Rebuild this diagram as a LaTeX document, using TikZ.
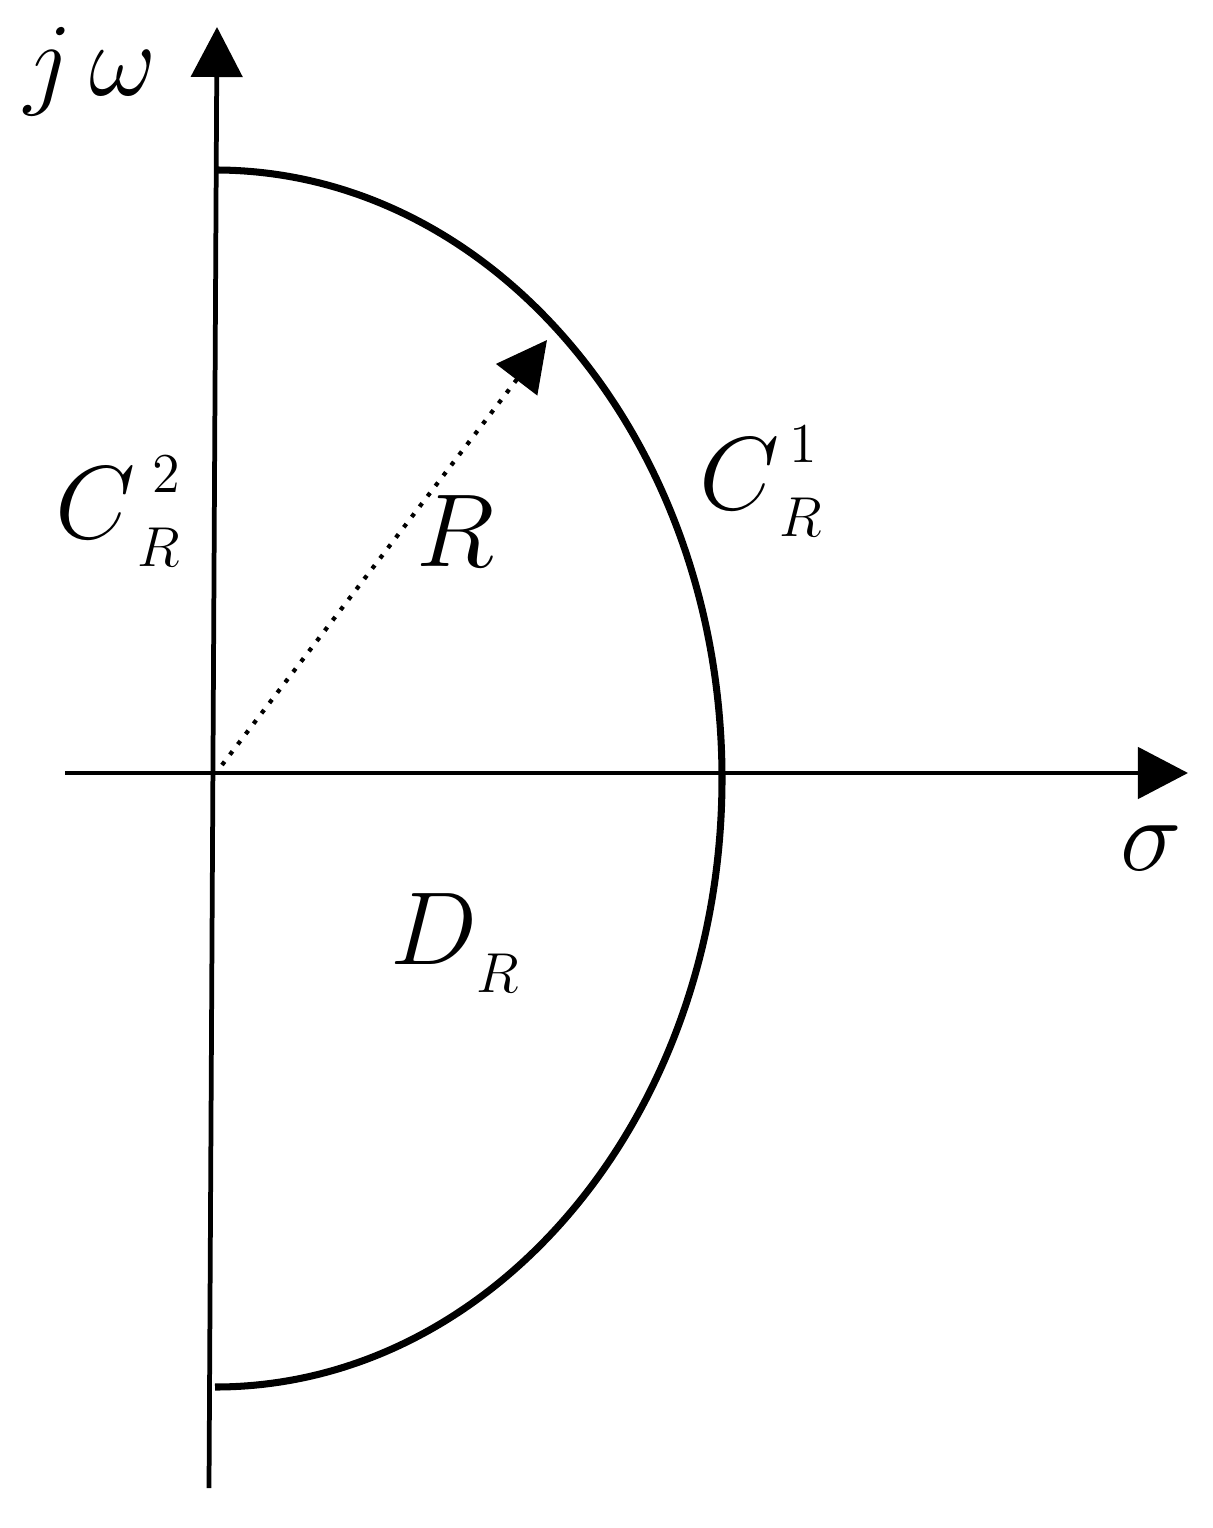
\RequirePackage{fix-cm}
\documentclass[tikz,border=0pt]{standalone}
\usetikzlibrary{positioning,arrows.meta}

\begin{document}
\begin{tikzpicture}[x=0.01cm,y=-0.01cm]
	\tikzstyle{axis} = [line width=1.35pt, -{Triangle[length=0.5cm,width=0.51cm]}]
	\tikzstyle{contour} = [line width=2pt]
	\tikzstyle{radius} = [line width=1.2pt, dash pattern=on 1.2pt off 2.5pt, -{Triangle[length=0.5cm,width=0.51cm]}]
	\tikzstyle{big} = [inner sep=0pt, anchor=base, font=\fontsize{29.5}{35}\selectfont]
	\tikzstyle{small} = [inner sep=0pt, anchor=base, font=\fontsize{16}{19}\selectfont]
	\useasboundingbox (0,0) rectangle (1213,1528);
	% axes
	\coordinate(xs) at (65,773);
	\coordinate(xe) at (1188,773);
	\coordinate(ys) at (209,1488);
	\coordinate(ye) at (217,27);
	\draw[axis](xs) -- (xe);
	\draw[axis](ys) -- (ye);
	% contour
	\coordinate(top) at (215,170);
	\draw[contour](top) arc[start angle=-90, end angle=90, x radius=507, y radius=608.5];
	% radius
	\coordinate(o) at (222,765);
	\coordinate(tip) at (547,340);
	\draw[radius](o) -- (tip);
	% labels
	\node[big](jw) at (91,96){$j\,\omega$};
	\node[big](sigma) at (1151,870){$\sigma$};
	\node[big](r) at (456,567){$R$};
	\node[big](c2) at (96,538){$C$};
	\node[small](c2sup) at (166,493){$2$};
	\node[small](c2sub) at (159,567){$R$};
	\node[big](c1) at (740,509){$C$};
	\node[small](c1sup) at (803,463){$1$};
	\node[small](c1sub) at (801,537){$R$};
	\node[big](d) at (434,964){$D$};
	\node[small](dsub) at (498,992){$R$};
\end{tikzpicture}
\end{document}
